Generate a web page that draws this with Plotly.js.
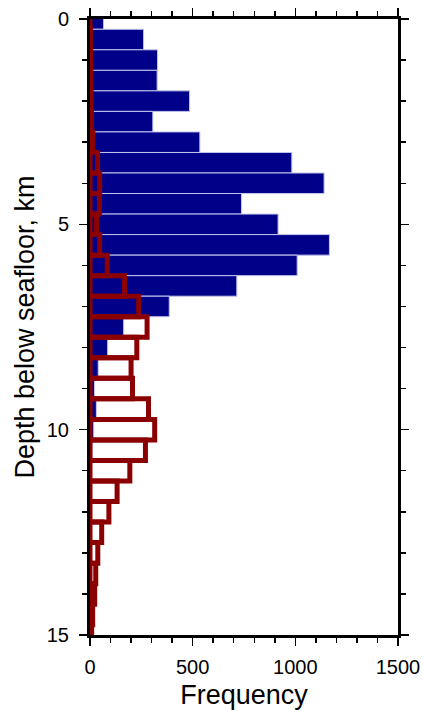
<!DOCTYPE html>
<html>
<head>
<meta charset="utf-8">
<script src="https://cdn.plot.ly/plotly-3.0.1.min.js"></script>
<style>html,body{margin:0;padding:0;background:#fff;}#chart{width:423px;height:710px;}</style>
</head>
<body>
<div id="chart"></div>
<script>
// Bin centres (depth below seafloor, km)
const depthBins = [0,0.5,1,1.5,2,2.5,3,3.5,4,4.5,5,5.5,6,6.5,7,7.5,8,8.5,9,9.5,10,10.5,11,11.5,12,12.5,13,13.5,14,14.5,15];
// Filled (blue) histogram frequencies
const blueFreq = [66,261,329,327,485,306,535,983,1140,738,916,1166,1009,715,386,164,86,40,22,31,18,10,6,3,1,0,0,0,0,0,0];
// Outlined (red) histogram frequencies
const redFreq = [0,2,3,4,5,7,14,37,47,46,32,47,84,168,237,278,228,200,207,285,315,270,194,132,92,57,38,28,23,13,8];
const xTicks = [0,500,1000,1500];
const yTicks = [0,5,10,15];

const traces = [
  {
    type: 'bar', orientation: 'h',
    y: depthBins, x: blueFreq, width: 0.5,
    marker: {color: '#000088', line: {color: '#c4c4ee', width: 1}},
    hoverinfo: 'skip'
  },
  {
    type: 'bar', orientation: 'h',
    y: depthBins, x: redFreq, width: 0.5,
    marker: {color: 'rgba(0,0,0,0)', line: {color: '#8b0000', width: 5}},
    hoverinfo: 'skip'
  }
];

const font = {family: '"Liberation Sans", Arial, Helvetica, sans-serif', color: '#000'};

const layout = {
  width: 423, height: 710,
  margin: {l: 90, r: 25, t: 19, b: 75},
  paper_bgcolor: '#fff', plot_bgcolor: '#fff',
  barmode: 'overlay', bargap: 0,
  showlegend: false,
  font: font,
  xaxis: {
    range: [0, 1500],
    tickvals: xTicks, ticktext: xTicks.map(String),
    ticks: 'outside', ticklen: 8, tickwidth: 1.5, tickcolor: '#000',
    minor: {dtick: 100, ticks: 'outside', ticklen: 5, tickwidth: 1.5, tickcolor: '#000'},
    showline: true, linewidth: 3, linecolor: '#000', mirror: 'allticks',
    showgrid: false, zeroline: false,
    tickfont: {size: 20, family: font.family, color: '#000'},
    ticklabelstandoff: 4,
    title: {text: 'Frequency', font: {size: 27, family: font.family, color: '#000'}, standoff: 10}
  },
  yaxis: {
    range: [15, 0],
    tickvals: yTicks, ticktext: yTicks.map(String),
    ticks: 'outside', ticklen: 8, tickwidth: 1.5, tickcolor: '#000',
    minor: {dtick: 1, ticks: 'outside', ticklen: 5, tickwidth: 1.5, tickcolor: '#000'},
    showline: true, linewidth: 3, linecolor: '#000', mirror: 'allticks',
    showgrid: false, zeroline: false,
    tickfont: {size: 20, family: font.family, color: '#000'},
    ticklabelstandoff: 6,
    title: {text: 'Depth below seafloor, km', font: {size: 27, family: font.family, color: '#000'}, standoff: 5}
  }
};

Plotly.newPlot('chart', traces, layout, {displayModeBar: false, staticPlot: true});
</script>
</body>
</html>
